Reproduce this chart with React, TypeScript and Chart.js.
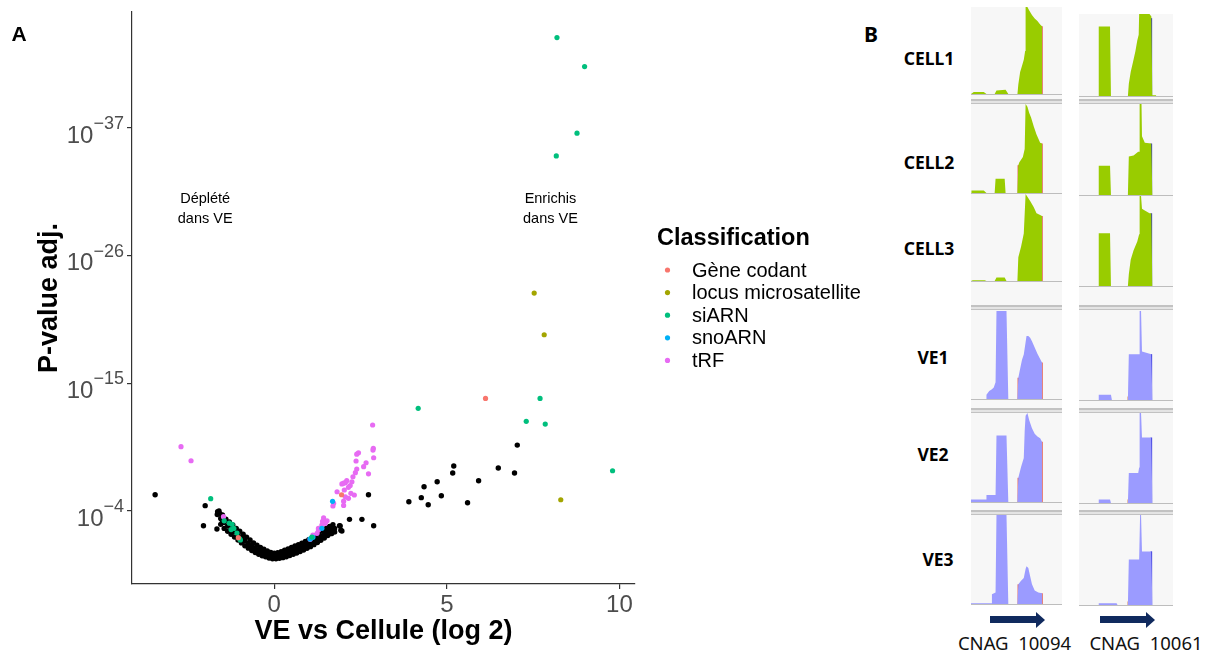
import React, { useEffect, useRef } from "react";
import { Chart, registerables } from "chart.js";
Chart.register(...registerables);
Chart.defaults.font.family = "Liberation Sans";

// ---------------- Panel A data (x = log2 fold change, y = -log10 adj. p) ----------------
const CLASS_LABELS = ["Gène codant", "locus microsatellite", "siARN", "snoARN", "tRF"];
const CLASS_COLORS = ["#F8766D", "#A3A500", "#00BF7D", "#00B0F6", "#E76BF3"];
const X_TICKS = [0, 5, 10];
const Y_TICKS = [4, 15, 26, 37];

const geneCodant = [[6.12, 13.7], [1.95, 5.4], [-1.04, 1.7]];
const locusMicrosat = [[7.53, 22.78], [7.82, 19.19], [8.3, 4.97]];
const siARN = [
  [8.19, 44.8], [8.99, 42.3], [8.77, 36.56], [8.17, 34.6], [4.17, 12.85], [7.7, 13.7],
  [7.3, 11.73], [7.85, 11.49], [9.8, 7.47], [-1.84, 5.06], [-1.45, 3.15], [-1.3, 2.95],
  [-1.22, 2.85], [-1.25, 2.4], [-1.17, 2.5], [-1.08, 2.1], [-1.0, 1.6], [-0.98, 1.5], [1.09, 1.75],
];
const snoARN = [[1.69, 4.83], [1.38, 2.51], [1.04, 1.59], [1.12, 1.73]];
const tRF = [
  [-2.7, 9.54], [-2.41, 8.33], [-1.47, 3.51],
  [2.85, 11.41], [2.87, 9.4], [2.86, 9.25], [2.44, 9.02], [2.39, 8.9], [2.88, 8.59], [2.37, 8.31],
  [2.66, 8.16], [2.59, 7.82], [2.39, 7.62], [2.35, 7.3], [2.73, 7.2], [2.28, 6.95], [2.25, 6.52],
  [2.1, 6.61], [2.06, 6.44], [2.01, 6.4], [1.96, 6.33], [2.2, 6.2], [2.15, 6.04], [2.03, 5.81],
  [1.82, 5.66], [2.22, 5.52], [2.32, 5.38], [2.06, 5.23], [2.15, 5.09], [2.01, 4.85], [1.72, 4.66],
  [1.7, 4.43], [2.01, 4.48],
  [1.43, 3.4], [1.53, 3.16], [1.48, 2.94], [1.38, 2.79], [1.28, 2.5], [1.28, 2.36], [1.24, 2.08],
  [1.12, 1.93], [1.04, 1.56], [1.4, 3.1],
];
// unclassified features (black)
const otherOutliers = [
  [-3.45, 5.4], [-2.0, 4.46], [-2.05, 2.73], [-1.66, 2.45], [-1.64, 3.94], [-1.58, 3.8], [-1.51, 3.22],
  [2.73, 5.4], [3.9, 4.8], [2.18, 3.28], [2.54, 3.28], [2.88, 2.73], [1.89, 2.73], [1.93, 2.34],
  [1.53, 2.22], [1.67, 2.08], [1.91, 2.71], [1.96, 2.28], [1.57, 2.22], [1.62, 2.08], [1.53, 2.51],
  [7.04, 9.68], [5.2, 7.88], [5.17, 7.27], [6.49, 7.7], [6.96, 7.27], [5.92, 6.61], [4.72, 6.52],
  [4.34, 6.09], [4.84, 5.32], [4.26, 5.15], [4.46, 4.54], [5.6, 4.71],
];
const otherBandUpper = [
  [-1.6, 4.0], [-1.5, 3.65], [-1.4, 3.3], [-1.3, 3.05], [-1.2, 2.8], [-1.1, 2.5], [-1.0, 2.25],
  [-0.9, 2.0], [-0.8, 1.75], [-0.7, 1.5], [-0.6, 1.25], [-0.5, 1.05], [-0.4, 0.85], [-0.3, 0.7],
  [-0.2, 0.55], [-0.1, 0.42], [0.0, 0.36], [0.1, 0.4], [0.2, 0.5], [0.3, 0.62], [0.4, 0.73],
  [0.5, 0.85], [0.6, 0.98], [0.7, 1.1], [0.8, 1.23], [0.9, 1.38], [1.0, 1.53], [1.1, 1.7],
  [1.2, 1.88], [1.3, 2.08], [1.4, 2.28], [1.5, 2.48], [1.6, 2.66], [1.7, 2.82],
];
const otherBandCenter = [
  [-1.65, 3.7], [-1.55, 3.35], [-1.45, 3.0], [-1.35, 2.7], [-1.25, 2.45], [-1.15, 2.2], [-1.05, 1.95],
  [-0.95, 1.7], [-0.85, 1.45], [-0.75, 1.2], [-0.65, 1.0], [-0.55, 0.8], [-0.45, 0.62], [-0.35, 0.47],
  [-0.25, 0.35], [-0.15, 0.25], [-0.05, 0.17], [0.05, 0.15], [0.15, 0.2], [0.25, 0.28], [0.35, 0.38],
  [0.45, 0.48], [0.55, 0.58], [0.65, 0.7], [0.75, 0.82], [0.85, 0.95], [0.95, 1.1], [1.05, 1.25],
  [1.15, 1.42], [1.25, 1.6], [1.35, 1.8], [1.45, 2.0], [1.55, 2.2], [1.65, 2.4], [1.75, 2.5],
];
const otherBandLower = [
  [-1.55, 2.85], [-1.45, 2.5], [-1.35, 2.25], [-1.25, 2.0], [-1.15, 1.75], [-1.05, 1.5], [-0.95, 1.25],
  [-0.85, 1.0], [-0.75, 0.8], [-0.65, 0.6], [-0.55, 0.42], [-0.45, 0.28], [-0.35, 0.15], [-0.25, 0.05],
  [-0.15, -0.05], [-0.05, -0.12], [0.05, -0.12], [0.15, -0.08], [0.25, -0.02], [0.35, 0.06],
  [0.45, 0.16], [0.55, 0.27], [0.65, 0.38], [0.75, 0.5], [0.85, 0.63], [0.95, 0.78], [1.05, 0.93],
  [1.15, 1.1], [1.25, 1.28], [1.35, 1.48], [1.45, 1.68], [1.55, 1.88], [1.65, 2.05], [1.75, 2.2],
];
const ANNOTATIONS = [
  { x: -2, y: 30, lines: ["Déplété", "dans VE"] },
  { x: 8, y: 30, lines: ["Enrichis", "dans VE"] },
];

// ---------------- Panel B data (coverage, % of track height, position % of window) ----------------
const SAMPLES = ["CELL1", "CELL2", "CELL3", "VE1", "VE2", "VE3"];
const GENES = ["CNAG  10094", "CNAG  10061"];

const cell1_10094 = [[0, 0], [0, 1], [3, 3.5], [14, 3.5], [17, 1], [26, 1], [28, 5], [38, 6], [41, 1], [51, 0.5], [52, 12], [54, 26], [56, 33], [58, 40], [59.5, 50], [60, 100], [62, 100], [64, 96], [67, 91], [70, 87], [73, 84], [76, 80], [78, 78], [78, 0], [100, 0]];
const cell2_10094 = [[0, 0], [0, 1], [1, 4], [14, 4], [17, 1], [26, 1], [27, 17], [37, 17], [38, 1], [51, 1], [52, 32], [53, 35], [57, 41], [59, 50], [60, 100], [62, 97], [64, 90], [66, 85], [69, 75], [72, 66], [76, 57], [78, 56], [78, 0], [100, 0]];
const cell3_10094 = [[0, 0], [0, 1], [2, 2], [15, 2], [17, 1], [26, 1], [28, 5], [37, 5], [39, 1], [51, 1], [52, 28], [55, 40], [58, 55], [60, 100], [62, 97], [65, 92], [69, 85], [72, 78], [76, 76], [78, 75], [78, 0], [100, 0]];
const ve1_10094 = [[0, 0], [0, 1], [17, 1], [17, 6], [20, 10], [23, 12], [25, 14], [27, 20], [28, 100], [39, 100], [41, 1], [51, 1], [52, 25], [54, 35], [56, 45], [58, 51], [60, 65], [61, 72], [63, 72], [65, 70], [67, 66], [70, 59], [73, 52], [76, 46], [78, 42], [78, 0], [100, 0]];
const ve2_10094 = [[0, 0], [0, 4], [17, 4], [17, 9], [27, 9], [28, 75], [39, 75], [41, 1], [51, 1], [52, 28], [55, 40], [58, 50], [59, 80], [60, 97], [62, 100], [64, 92], [67, 83], [70, 77], [73, 74], [76, 72], [78, 68], [78, 0], [100, 0]];
const ve3_10094 = [[0, 0], [0, 2], [22, 2], [23, 12], [27, 14], [28, 100], [39, 100], [41, 1], [51, 1], [52, 23], [55, 27], [58, 30], [60, 40], [61, 43], [63, 41], [65, 32], [67, 23], [70, 16], [74, 14], [78, 13], [78, 0], [100, 0]];

const cell1_10061 = [[0, 0], [21, 0], [21, 85], [33, 85], [34, 1], [52, 1], [53, 16], [55, 30], [58, 45], [60, 55], [62, 68], [63.5, 75], [64, 100], [75, 100], [77, 97], [78, 2], [82, 2], [82, 0], [100, 0]];
const cell2_10061 = [[0, 0], [21, 0], [21, 33], [33, 33], [34, 1], [52, 1], [53, 43], [58, 44], [63, 48], [64, 48], [64.5, 100], [66.5, 100], [67, 65], [70, 58], [77, 57], [78, 0], [100, 0]];
const cell3_10061 = [[0, 0], [21, 0], [21, 59], [33, 59], [34, 1], [52, 1], [53, 14], [55, 30], [58, 40], [62, 50], [64, 58], [64.5, 100], [66, 100], [67, 86], [70, 84], [75, 81], [77, 81], [78, 0], [100, 0]];
const ve1_10061 = [[0, 0], [21, 0], [21, 7], [34, 7], [35, 1], [52, 1], [53, 52], [64, 52], [64.5, 100], [66, 100], [67, 55], [77, 52], [78, 0], [100, 0]];
const ve2_10061 = [[0, 0], [21, 0], [21, 5], [33, 5], [34, 1], [52, 1], [53, 34], [63, 34], [64, 40], [64.5, 100], [66, 100], [67, 73], [77, 73], [78, 0], [100, 0]];
const ve3_10061 = [[0, 0], [21, 0], [21, 3], [40, 3], [41, 1], [52, 1], [53, 51], [64, 51], [65, 100], [66, 100], [67, 60], [77, 60], [78, 0], [100, 0]];

// mismatch marks: [position, from, to, base]
const cell1_10094_marks = [[78, 0, 78, "T"]];
const cell2_10094_marks = [[52, 0, 32, "T"], [78, 0, 56, "T"]];
const cell3_10094_marks = [[78, 0, 75, "T"]];
const ve1_10094_marks = [[52, 0, 25, "T"], [78, 0, 42, "T"]];
const ve2_10094_marks = [[52, 0, 28, "T"], [78, 0, 68, "T"]];
const ve3_10094_marks = [[52, 0, 23, "T"], [78, 0, 13, "T"]];
const cell1_10061_marks = [[66, 77, 100, "G"], [66, 0, 77, "A"], [77, 0, 95, "C"]];
const cell2_10061_marks = [[77, 0, 57, "C"]];
const cell3_10061_marks = [[66, 58, 86, "G"], [66, 0, 58, "A"], [77, 0, 81, "C"]];
const ve1_10061_marks = [[52.5, 0, 5, "G"], [77, 0, 52, "C"]];
const ve2_10061_marks = [[52.5, 0, 5, "G"], [77, 0, 73, "C"]];
const ve3_10061_marks = [[52.5, 0, 5, "G"], [77, 0, 60, "C"]];

const COV_10094 = [cell1_10094, cell2_10094, cell3_10094, ve1_10094, ve2_10094, ve3_10094];
const COV_10061 = [cell1_10061, cell2_10061, cell3_10061, ve1_10061, ve2_10061, ve3_10061];
const MARKS_10094 = [cell1_10094_marks, cell2_10094_marks, cell3_10094_marks, ve1_10094_marks, ve2_10094_marks, ve3_10094_marks];
const MARKS_10061 = [cell1_10061_marks, cell2_10061_marks, cell3_10061_marks, ve1_10061_marks, ve2_10061_marks, ve3_10061_marks];

// ---------------- styles / layout ----------------
const BASE_COLORS: Record<string, string> = { A: "#2f9a1f", C: "#1f1fd0", G: "#d9702a", T: "#e0574d" };
const CELL_FILL = "#99cc00";
const VE_FILL = "#9b9bff";
const FONT = '"Liberation Sans", Arial, sans-serif';
const BFONT = '"Noto Sans", "Open Sans", sans-serif';

const toPts = (arr: number[][]) => arr.map(([x, y]) => ({ x, y }));

const yLabelPlugin = {
  id: "ySup",
  afterDraw(chart: any) {
    const s = chart.scales.y;
    const ctx = chart.ctx;
    ctx.save();
    ctx.fillStyle = "#4D4D4D";
    ctx.textBaseline = "alphabetic";
    for (const t of s.ticks) {
      const y = s.getPixelForValue(t.value);
      const exp = "\u2212" + t.value;
      ctx.font = `18px ${FONT}`;
      const ew = ctx.measureText(exp).width;
      const ex = s.right - 8 - ew;
      ctx.textAlign = "left";
      ctx.fillText(exp, ex, y + 1);
      ctx.font = `24px ${FONT}`;
      ctx.textAlign = "right";
      ctx.fillText("10", ex, y + 14.7);
    }
    ctx.restore();
  },
};

const annotationPlugin = {
  id: "annot",
  afterDraw(chart: any) {
    const { x, y } = chart.scales;
    const ctx = chart.ctx;
    ctx.save();
    ctx.font = `14.5px ${FONT}`;
    ctx.fillStyle = "#000";
    ctx.textAlign = "center";
    ctx.textBaseline = "middle";
    for (const a of ANNOTATIONS) {
      const px = x.getPixelForValue(a.x);
      const py = y.getPixelForValue(a.y);
      a.lines.forEach((l, i) => ctx.fillText(l, px, py + (i - (a.lines.length - 1) / 2) * 20));
    }
    ctx.restore();
  },
};

const legendPlugin = {
  id: "ggLegend",
  afterDraw(chart: any) {
    const ctx = chart.ctx;
    const ca = chart.chartArea;
    const cy = (ca.top + ca.bottom) / 2;
    const lx = ca.right + 22;
    ctx.save();
    ctx.fillStyle = "#000";
    ctx.font = `bold 23.5px ${FONT}`;
    ctx.textAlign = "left";
    ctx.textBaseline = "alphabetic";
    ctx.fillText("Classification", lx, cy - 53);
    ctx.font = `20px ${FONT}`;
    ctx.textBaseline = "middle";
    chart.data.datasets.forEach((d: any, i: number) => {
      if (!d.inLegend) return;
      const yy = cy - 28 + 22.6 * i;
      ctx.fillStyle = d.backgroundColor;
      ctx.beginPath();
      ctx.arc(lx + 10.5, yy, 2.6, 0, Math.PI * 2);
      ctx.fill();
      ctx.fillStyle = "#000";
      ctx.fillText(d.label, lx + 35, yy + 1);
    });
    ctx.restore();
  },
};

function Volcano() {
  const ref = useRef<HTMLCanvasElement>(null);
  useEffect(() => {
    const series = [geneCodant, locusMicrosat, siARN, snoARN, tRF];
    const datasets: any[] = series.map((d, i) => ({
      label: CLASS_LABELS[i],
      inLegend: true,
      data: toPts(d),
      backgroundColor: CLASS_COLORS[i],
      pointRadius: 2.6,
      borderWidth: 0,
    }));
    datasets.push({
      label: "autre",
      inLegend: false,
      data: toPts([...otherBandUpper, ...otherBandCenter, ...otherBandLower, ...otherOutliers]),
      backgroundColor: "#000000",
      pointRadius: 2.7,
      borderWidth: 0,
    });
    const chart = new Chart(ref.current as HTMLCanvasElement, {
      type: "scatter",
      data: { datasets },
      options: {
        animation: false,
        responsive: false,
        devicePixelRatio: 1,
        layout: { padding: { top: 12, right: 225, left: 0, bottom: 0 } },
        plugins: { legend: { display: false }, tooltip: { enabled: false } },
        scales: {
          x: {
            type: "linear",
            min: -4.12,
            max: 10.45,
            afterBuildTicks: (s: any) => { s.ticks = X_TICKS.map((v) => ({ value: v })); },
            afterFit: (s: any) => { s.height = 69; },
            grid: { display: true, drawOnChartArea: false, drawTicks: true, tickLength: 5, color: "#333", lineWidth: 1.2 },
            border: { display: true, color: "#333", width: 1.2 },
            ticks: { font: { family: "Liberation Sans", size: 24 }, color: "#4D4D4D", padding: 2, maxRotation: 0 },
            title: {
              display: true,
              text: "VE vs Cellule (log 2)",
              font: { family: "Liberation Sans", size: 27, weight: "bold" },
              color: "#000",
              padding: { top: 0, bottom: 4.8 },
            },
          },
          y: {
            type: "linear",
            min: -2.29,
            max: 47.0,
            afterBuildTicks: (s: any) => { s.ticks = Y_TICKS.map((v) => ({ value: v })); },
            afterFit: (s: any) => { s.width = 132; },
            grid: { display: true, drawOnChartArea: false, drawTicks: true, tickLength: 5, color: "#333", lineWidth: 1.2 },
            border: { display: true, color: "#333", width: 1.2 },
            ticks: { display: false },
            title: {
              display: true,
              text: "P-value adj.",
              font: { family: "Liberation Sans", size: 27, weight: "bold" },
              color: "#000",
              padding: { top: 33.4, bottom: 0 },
            },
          },
        },
      } as any,
      plugins: [yLabelPlugin, annotationPlugin, legendPlugin],
    });
    return () => chart.destroy();
  }, []);
  return <canvas ref={ref} width={860} height={653} style={{ position: "absolute", left: 0, top: 0 }} />;
}

const baselinePlugin = {
  id: "baseline",
  afterDraw(chart: any) {
    const ctx = chart.ctx;
    const ca = chart.chartArea;
    ctx.save();
    ctx.strokeStyle = "#bdbdbd";
    ctx.lineWidth = 1;
    ctx.beginPath();
    ctx.moveTo(0, ca.bottom - 0.5);
    ctx.lineTo(chart.width, ca.bottom - 0.5);
    ctx.stroke();
    ctx.restore();
  },
};

function Track({ cov, marks, fill, left, top, width, height }: any) {
  const ref = useRef<HTMLCanvasElement>(null);
  useEffect(() => {
    const datasets: any[] = [
      {
        data: toPts(cov),
        fill: "origin",
        backgroundColor: fill,
        borderColor: "rgba(0,0,0,0)",
        borderWidth: 0,
        pointRadius: 0,
        tension: 0,
      },
    ];
    for (const [x, y0, y1, base] of marks) {
      datasets.push({
        data: [{ x, y: y0 }, { x, y: y1 }],
        borderColor: BASE_COLORS[base],
        borderWidth: 1.5,
        pointRadius: 0,
        fill: false,
      });
    }
    const chart = new Chart(ref.current as HTMLCanvasElement, {
      type: "line",
      data: { datasets },
      options: {
        animation: false,
        responsive: false,
        devicePixelRatio: 1,
        layout: { padding: 0 },
        plugins: { legend: { display: false }, tooltip: { enabled: false } },
        scales: {
          x: { type: "linear", min: 0, max: 100, display: false },
          y: { type: "linear", min: 0, max: 100, display: false },
        },
      } as any,
      plugins: [baselinePlugin],
    });
    return () => chart.destroy();
  }, []);
  return <canvas ref={ref} width={width} height={height} style={{ position: "absolute", left, top }} />;
}

const COLS = [
  { x: 971, w: 91, bgTop: 7, rows: [[7, 95], [104, 194], [194, 282], [311, 400], [413, 503], [515, 605]], cov: COV_10094, marks: MARKS_10094, label: [1014.5, 643] },
  { x: 1079, w: 94, bgTop: 14, rows: [[14, 97], [104, 196], [196, 287], [311, 401], [413, 504], [515, 606]], cov: COV_10061, marks: MARKS_10061, label: [1146, 643] },
];
const SEPARATORS = [99, 305, 408, 510];
const SAMPLE_POS = [[929, 59], [929, 163.3], [929, 248.5], [933, 358.3], [933, 455], [938, 560]];
const ARROWS = [{ x: 990, shaft: 47 }, { x: 1100, shaft: 47 }];

const centered = (left: number, top: number, extra: any) => ({
  position: "absolute" as const,
  left,
  top,
  transform: "translate(-50%,-50%)",
  lineHeight: "1",
  whiteSpace: "pre" as const,
  ...extra,
});

function PanelB() {
  return (
    <>
      <div style={centered(871, 33.5, { fontFamily: BFONT, fontWeight: 700, fontSize: "21px" })}>B</div>
      {SAMPLES.map((s, i) => (
        <div key={s} style={centered(SAMPLE_POS[i][0], SAMPLE_POS[i][1], { fontFamily: BFONT, fontWeight: 700, fontSize: "17.5px" })}>{s}</div>
      ))}
      {COLS.map((c, ci) => (
        <React.Fragment key={ci}>
          <div style={{ position: "absolute", left: c.x, top: c.bgTop, width: c.w, height: c.rows[5][1] - c.bgTop, background: "#f7f7f7" }} />
          {SEPARATORS.map((y) => (
            <div key={y} style={{ position: "absolute", left: c.x, top: y, width: c.w, height: 5, boxSizing: "border-box", background: "#e4e4e4", borderTop: "2px solid #c2c2c2", borderBottom: "1px solid #c2c2c2" }} />
          ))}
          {c.rows.map(([t, b], ri) => (
            <Track key={ri} cov={c.cov[ri]} marks={c.marks[ri]} fill={ri < 3 ? CELL_FILL : VE_FILL} left={c.x} top={t} width={c.w} height={b - t} />
          ))}
          <div style={{ position: "absolute", left: ARROWS[ci].x, top: 616, width: ARROWS[ci].shaft, height: 7, background: "#102a5e" }} />
          <div style={{ position: "absolute", left: ARROWS[ci].x + ARROWS[ci].shaft - 1, top: 611.5, width: 0, height: 0, borderLeft: "9px solid #102a5e", borderTop: "8px solid transparent", borderBottom: "8px solid transparent" }} />
          <div style={centered(c.label[0], c.label[1], { fontFamily: BFONT, fontSize: "18.5px", color: "#111" })}>{GENES[ci]}</div>
        </React.Fragment>
      ))}
    </>
  );
}

export default function App() {
  return (
    <div style={{ position: "absolute", left: 0, top: 0, width: 1212, height: 653, background: "#fff", overflow: "hidden" }}>
      <Volcano />
      <div style={centered(19, 33, { fontFamily: FONT, fontWeight: 700, fontSize: "21px" })}>A</div>
      <PanelB />
    </div>
  );
}
